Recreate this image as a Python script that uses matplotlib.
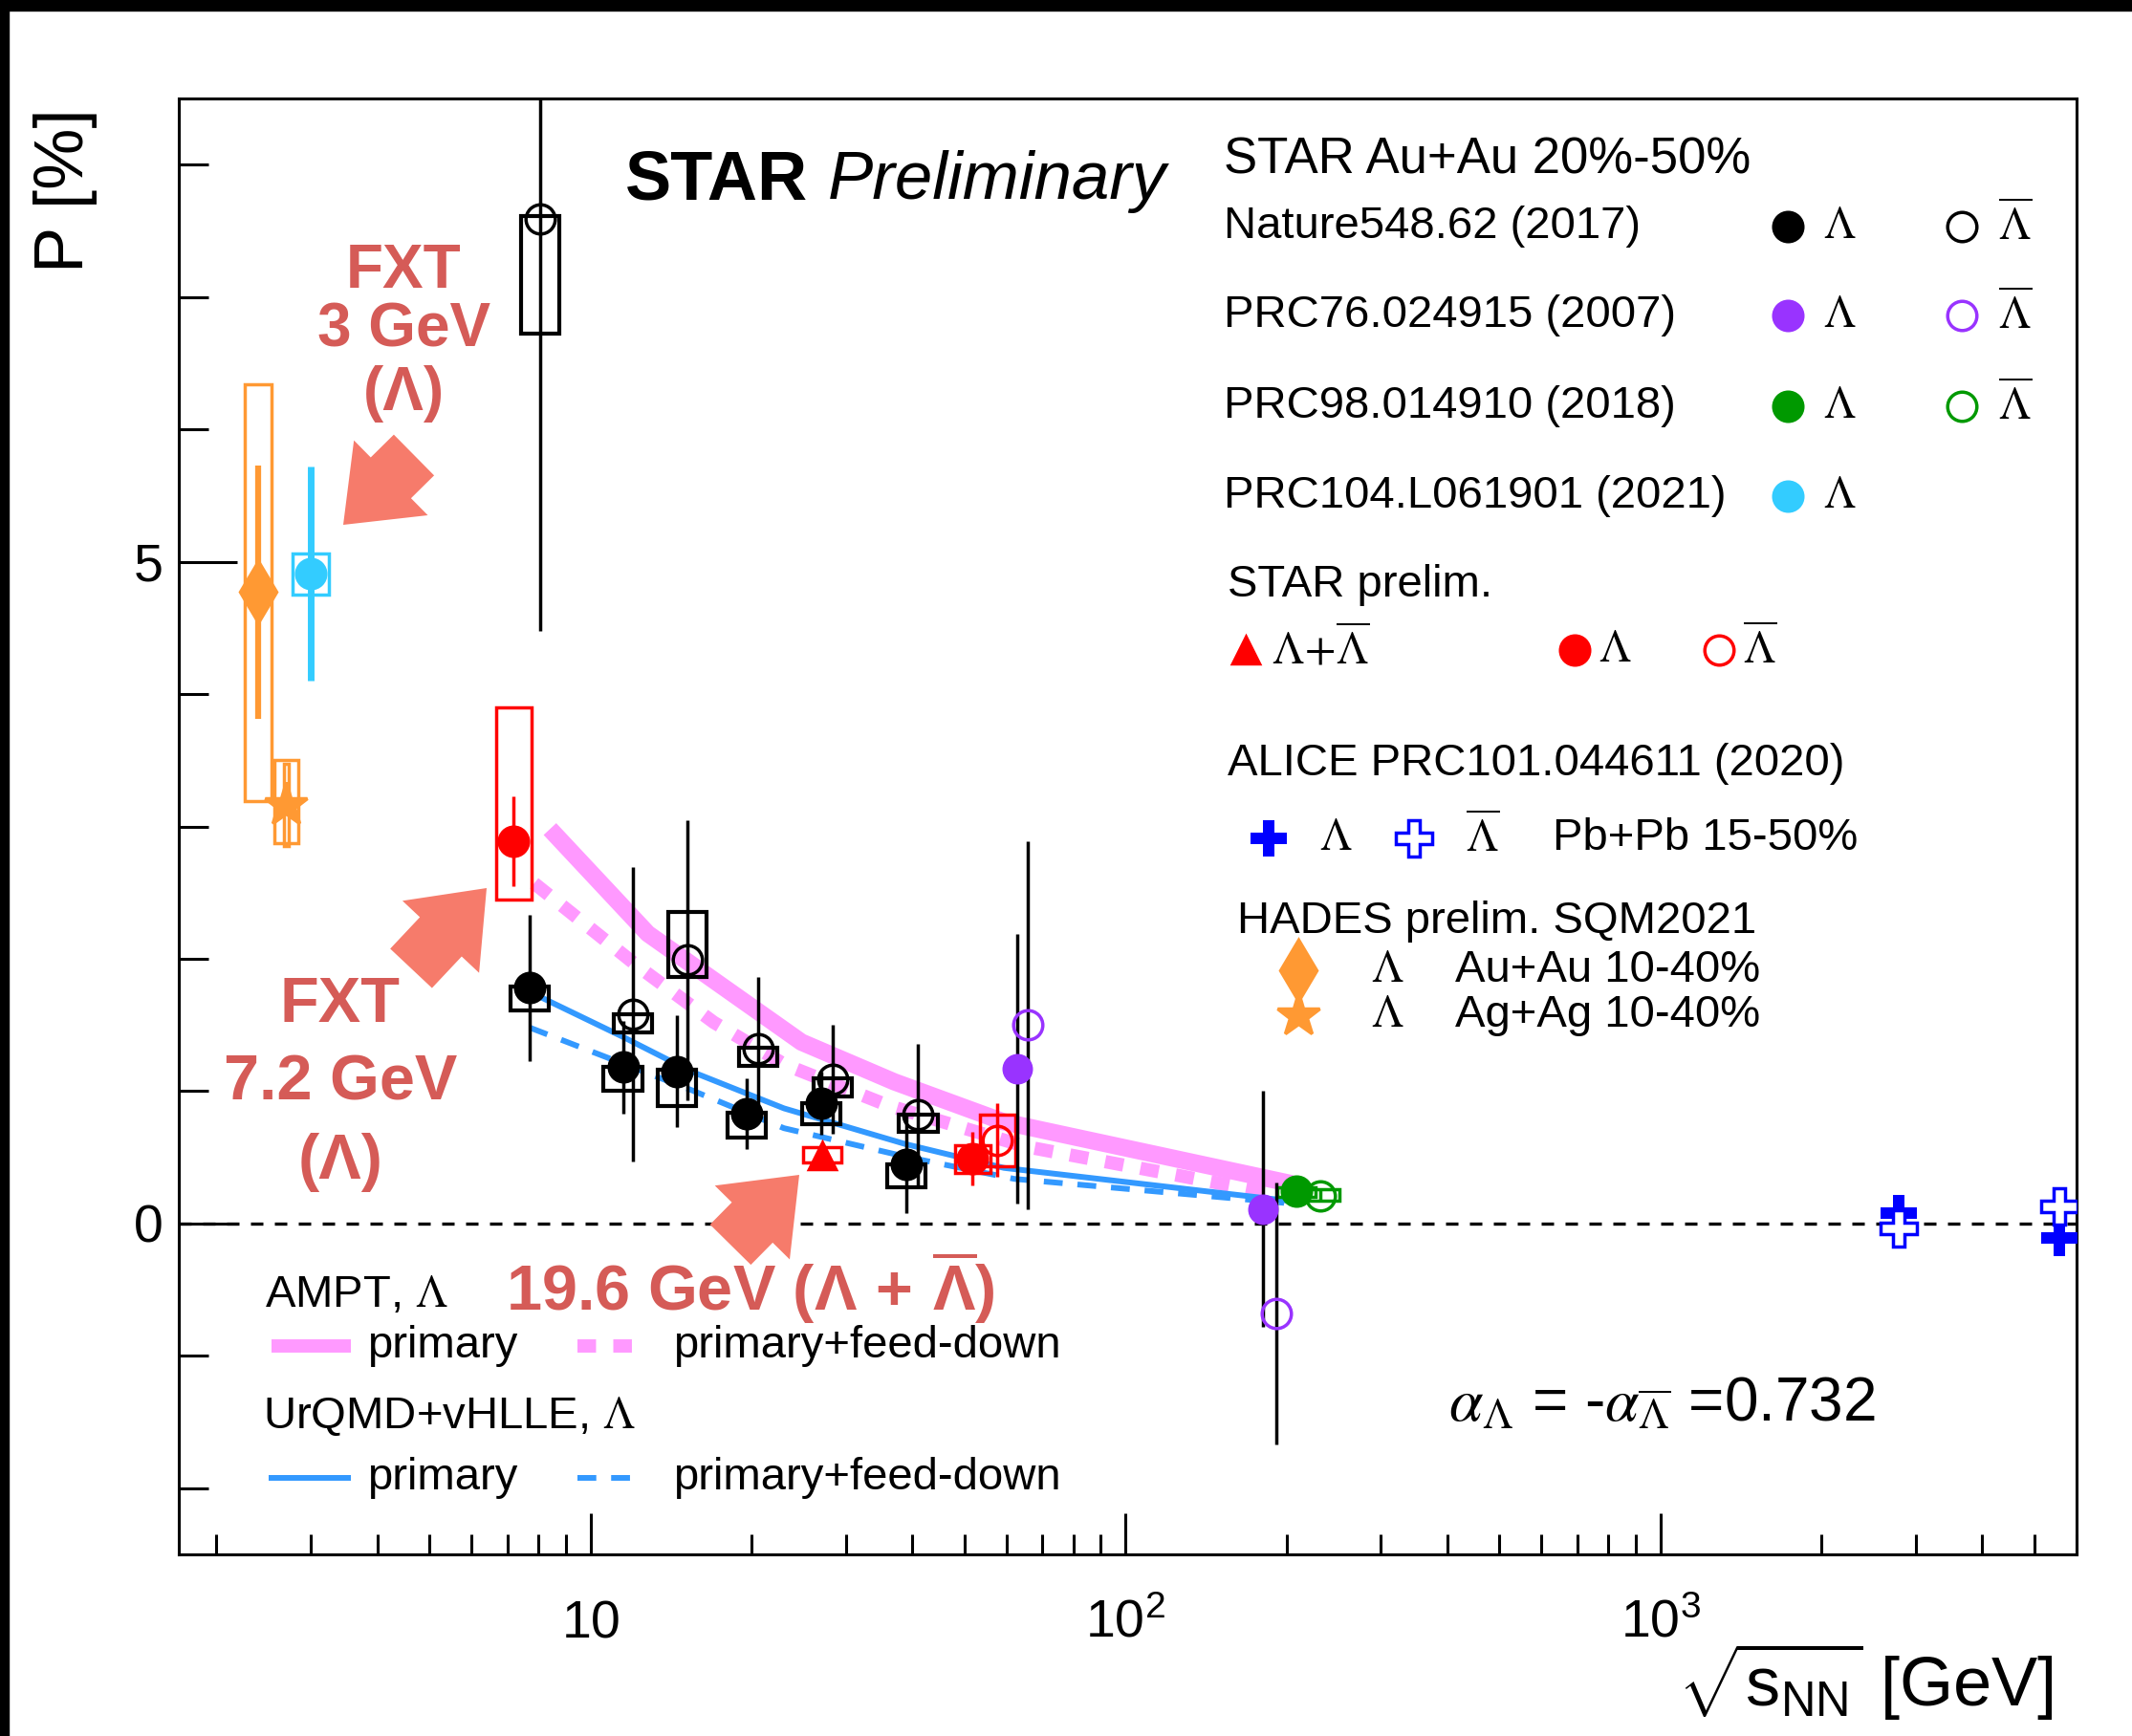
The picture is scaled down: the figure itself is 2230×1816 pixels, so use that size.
import numpy as np
import matplotlib
matplotlib.use('Agg')

from matplotlib import pyplot as plt
from matplotlib.patches import Rectangle, FancyArrow
from matplotlib.transforms import IdentityTransform
from matplotlib.lines import Line2D
from matplotlib.ticker import FixedLocator, NullFormatter

plt.rcParams['font.family'] = ['Liberation Sans', 'DejaVu Sans']
plt.rcParams['mathtext.fontset'] = 'custom'
plt.rcParams['mathtext.rm'] = 'Liberation Sans'
plt.rcParams['mathtext.it'] = 'Liberation Sans:italic'
plt.rcParams['mathtext.bf'] = 'Liberation Sans:bold'

# ---------------- data ----------------
# STAR Au+Au 20-50%, Nature 548, 62 (2017)
nat_lam_x = [7.7, 11.5, 14.5, 19.6, 27.0, 39.0]
nat_lam_y = [1.78, 1.18, 1.15, 0.83, 0.91, 0.45]
nat_lam_err = [0.55, 0.35, 0.42, 0.27, 0.24, 0.37]
nat_lam_lo = [1.61, 1.00, 0.89, 0.65, 0.75, 0.27]
nat_lam_hi = [1.79, 1.18, 1.16, 0.84, 0.91, 0.45]

nat_alam_x = [8.05, 12.0, 15.2, 20.6, 28.4, 41.0]
nat_alam_y = [7.59, 1.58, 1.99, 1.32, 1.09, 0.82]
nat_alam_err = [3.11, 1.11, 1.06, 0.54, 0.41, 0.54]
nat_alam_lo = [6.72, 1.44, 1.86, 1.19, 0.96, 0.69]
nat_alam_hi = [7.61, 1.58, 2.35, 1.33, 1.10, 0.82]

# PRC76.024915 (2007)
prc76_lam_x = [62.7, 181.0]
prc76_lam_y = [1.17, 0.11]
prc76_lam_err = [1.02, 0.89]
prc76_alam_x = [65.7, 191.6]
prc76_alam_y = [1.50, -0.68]
prc76_alam_err = [1.39, 0.99]

# PRC98.014910 (2018)
prc98_lam_x = [209.0]
prc98_lam_y = [0.245]
prc98_lam_err = [0.03]
prc98_lam_lo = [0.20]
prc98_lam_hi = [0.27]
prc98_alam_x = [231.0]
prc98_alam_y = [0.21]
prc98_alam_err = [0.04]
prc98_alam_lo = [0.17]
prc98_alam_hi = [0.26]

# PRC104.L061901 (2021), 3 GeV FXT
prc104_x = [3.0]
prc104_y = [4.91]
prc104_err = [0.81]
prc104_lo = [4.75]
prc104_hi = [5.06]

# STAR preliminary
pre_sum_x = [27.1]
pre_sum_y = [0.51]
pre_sum_err = [0.04]
pre_sum_lo = [0.46]
pre_sum_hi = [0.58]
pre_lam_x = [7.19, 51.8]
pre_lam_y = [2.89, 0.49]
pre_lam_err = [0.34, 0.20]
pre_lam_lo = [2.45, 0.38]
pre_lam_hi = [3.90, 0.59]
pre_alam_x = [57.6]
pre_alam_y = [0.63]
pre_alam_err = [0.28]
pre_alam_lo = [0.43]
pre_alam_hi = [0.82]

# ALICE PRC101.044611 (2020), Pb+Pb 15-50%
alice_lam_x = [2790.0, 5570.0]
alice_lam_y = [0.075, -0.11]
alice_alam_x = [2790.0, 5570.0]
alice_alam_y = [-0.04, 0.13]

# HADES prelim. SQM2021
hades_au_x = [2.39]
hades_au_y = [4.77]
hades_au_err = [0.96]
hades_au_lo = [3.19]
hades_au_hi = [6.34]
hades_ag_x = [2.70]
hades_ag_y = [3.16]
hades_ag_err = [0.31]
hades_ag_lo = [2.87]
hades_ag_hi = [3.50]

# models
ampt_prim_x = [8.4, 12.8, 24.8, 37.0, 59.0, 205.0]
ampt_prim_y = [2.98, 2.19, 1.37, 1.07, 0.77, 0.30]
ampt_fd_x = [7.85, 12.2, 17.0, 23.1, 36.1, 65.3, 199.0]
ampt_fd_y = [2.57, 1.95, 1.52, 1.20, 0.89, 0.58, 0.21]
urqmd_prim_x = [7.7, 11.5, 15.4, 23.0, 38.8, 59.3, 203.0]
urqmd_prim_y = [1.75, 1.41, 1.15, 0.87, 0.60, 0.42, 0.17]
urqmd_fd_x = [7.7, 15.4, 23.0, 38.8, 62.0, 198.0]
urqmd_fd_y = [1.48, 1.01, 0.72, 0.505, 0.337, 0.156]

# ---------------- colours ----------------
c_black = 'black'
c_purple = '#9933ff'
c_green = '#009900'
c_cyan = '#33ccff'
c_red = '#ff0000'
c_blue = '#0000ff'
c_orange = '#ff9933'
c_pink = '#ff99ff'
c_lblue = '#3399ff'
c_note = '#d55b57'
c_arrow = '#f67b6b'

W, H = 2230, 1816
fig = plt.figure(figsize=(W / 100, H / 100), dpi=100)
ax = fig.add_axes([187 / W, 1 - 1626 / H, (2172 - 187) / W, (1626 - 103) / H])
ax.set_xscale('log')
ax.set_xlim(1.7, 6000)
ax.set_ylim(-2.5, 8.5)


def boxes(x, lo, hi, color, half=0.036, lw=3.0, z=4):
    f = 10 ** half
    for xi, l, h in zip(x, lo, hi):
        ax.add_patch(Rectangle((xi / f, l), xi * f - xi / f, h - l, fill=False,
                               ec=color, lw=lw, zorder=z))


def points(x, y, err, color, marker, filled=True, ms=22, elw=2.5, mew=2.5, z=6):
    if err is not None:
        ax.errorbar(x, y, yerr=err, fmt='none', ecolor=color, elinewidth=elw,
                    capsize=0, zorder=z - 1)
    ax.plot(x, y, ls='none', marker=marker, ms=ms, color=color,
            mfc=color if filled else 'none', mec=color, mew=mew, zorder=z)


# zero line
ax.axhline(0, color='black', lw=2.4, ls=(0, (3.9, 3.6)), zorder=1)

# model curves
ax.plot(ampt_prim_x, ampt_prim_y, color=c_pink, lw=13, solid_capstyle='butt', zorder=2)
ax.plot(ampt_fd_x, ampt_fd_y, color=c_pink, lw=10, ls=(0, (1.4, 1.3)), zorder=2)
ax.plot(urqmd_prim_x, urqmd_prim_y, color=c_lblue, lw=4.3, zorder=2)
ax.plot(urqmd_fd_x, urqmd_fd_y, color=c_lblue, lw=4.3, ls=(0, (3.3, 2.6)), zorder=2)

# STAR Nature
boxes(nat_lam_x, nat_lam_lo, nat_lam_hi, c_black)
points(nat_lam_x, nat_lam_y, nat_lam_err, c_black, 'o')
boxes(nat_alam_x, nat_alam_lo, nat_alam_hi, c_black)
points(nat_alam_x, nat_alam_y, nat_alam_err, c_black, 'o', filled=False)

# PRC76
points(prc76_lam_x, prc76_lam_y, prc76_lam_err, c_black, 'none')
ax.plot(prc76_lam_x, prc76_lam_y, ls='none', marker='o', ms=22, color=c_purple, zorder=6)
points(prc76_alam_x, prc76_alam_y, prc76_alam_err, c_black, 'none')
ax.plot(prc76_alam_x, prc76_alam_y, ls='none', marker='o', ms=22, mfc='none',
        mec=c_purple, mew=2.5, zorder=6)

# PRC98
boxes(prc98_lam_x, prc98_lam_lo, prc98_lam_hi, c_green, lw=2.5)
points(prc98_lam_x, prc98_lam_y, prc98_lam_err, c_green, 'o')
boxes(prc98_alam_x, prc98_alam_lo, prc98_alam_hi, c_green, lw=2.5)
points(prc98_alam_x, prc98_alam_y, prc98_alam_err, c_green, 'o', filled=False)

# PRC104
boxes(prc104_x, prc104_lo, prc104_hi, c_cyan, half=0.034, lw=2.5)
points(prc104_x, prc104_y, prc104_err, c_cyan, 'o', elw=5)

# STAR preliminary
boxes(pre_sum_x, pre_sum_lo, pre_sum_hi, c_red, lw=2.5)
points(pre_sum_x, pre_sum_y, pre_sum_err, c_red, '^', ms=20)
boxes(pre_lam_x, pre_lam_lo, pre_lam_hi, c_red, half=0.033, lw=2.5)
points(pre_lam_x, pre_lam_y, pre_lam_err, c_red, 'o')
boxes(pre_alam_x, pre_alam_lo, pre_alam_hi, c_red, half=0.033, lw=2.5)
points(pre_alam_x, pre_alam_y, pre_alam_err, c_red, 'o', filled=False)

# ALICE
ax.plot(alice_lam_x, alice_lam_y, ls='none', marker='P', ms=27, color=c_blue, mew=0, zorder=6)
ax.plot(alice_alam_x, alice_alam_y, ls='none', marker='P', ms=27, mfc='white',
        mec=c_blue, mew=2.5, zorder=7)

# HADES
boxes(hades_au_x, hades_au_lo, hades_au_hi, c_orange, half=0.0255, lw=2.5)
points(hades_au_x, hades_au_y, hades_au_err, c_orange, 'd', ms=33, elw=4.5)
boxes(hades_ag_x, hades_ag_lo, hades_ag_hi, c_orange, half=0.023, lw=2.5)
boxes(hades_ag_x, [v - e for v, e in zip(hades_ag_y, hades_ag_err)],
      [v + e for v, e in zip(hades_ag_y, hades_ag_err)], c_orange, half=0.005, lw=2.5)
points(hades_ag_x, hades_ag_y, None, c_orange, '*', ms=34)

# ---------------- axes styling ----------------
for s in ax.spines.values():
    s.set_linewidth(2.2)
ax.set_yticks([0, 5])
ax.set_yticklabels(['0', '5'])
ax.yaxis.set_minor_locator(FixedLocator(np.arange(-2, 9)))
ax.xaxis.set_major_locator(FixedLocator([10, 100, 1000]))
ax.set_xticklabels([r'$10$', r'$10^{2}$', r'$10^{3}$'])
ax.xaxis.set_minor_locator(FixedLocator([m * 10 ** d for d in range(0, 4) for m in range(2, 10)]))
ax.xaxis.set_minor_formatter(NullFormatter())
ax.tick_params(axis='both', which='both', direction='in', width=2.2,
               top=False, right=False, labelsize=40)
ax.tick_params(axis='y', which='major', length=44, pad=12)
ax.tick_params(axis='y', which='minor', length=22)
ax.tick_params(axis='x', which='major', length=31, pad=62)
ax.tick_params(axis='x', which='minor', length=15)
for lab in ax.get_xticklabels():
    lab.set_verticalalignment('baseline')

fig.text(0.0306, 0.8904, 'P [%]', rotation=90, ha='center', va='center', fontsize=52)
fig.text(0.963, 0.0171, r'$\sqrt{\mathrm{s}_{\mathrm{NN}}}$ [GeV]', ha='right', va='baseline',
         fontsize=52)

# black frame remnants at top / left
fig.add_artist(Rectangle((0, 1 - 11 / H), 1, 11 / H, color='black', transform=fig.transFigure))
fig.add_artist(Rectangle((0, 0), 9 / W, 1, color='black', transform=fig.transFigure))

# ---------------- annotations ----------------
T = ax.transAxes
ax.text(0.2354, 0.9432, 'STAR', fontsize=52, fontweight='bold', va='center', transform=T)
ax.text(0.342, 0.9432, 'Preliminary', fontsize=51, style='italic', va='center', transform=T)

for yy, s in zip([0.8809, 0.8407, 0.7969], ['FXT', '3 GeV', '(Λ)']):
    ax.text(0.1186, yy, s, fontsize=46, fontweight='bold', color=c_note,
            ha='center', va='center', transform=T)
for yy, s in zip([0.3766, 0.3234, 0.2692], ['FXT', '7.2 GeV', '(Λ)']):
    ax.text(0.0850, yy, s, fontsize=48, fontweight='bold', color=c_note,
            ha='center', va='center', transform=T)
ax.text(0.1723, 0.1833, r'$\mathbf{19.6\ GeV\ (\Lambda\,+\,\overline{\Lambda})}$', fontsize=48,
        color=c_note, ha='left', va='center', transform=T)


def block_arrow(tail, tip):
    a = FancyArrow(tail[0], H - tail[1], tip[0] - tail[0], -(tip[1] - tail[1]),
                   width=60, head_width=110, head_length=70, length_includes_head=True,
                   color=c_arrow, lw=0, transform=IdentityTransform(), zorder=8)
    fig.add_artist(a)


block_arrow((433, 476), (359, 549))
block_arrow((430, 1013), (509, 929))
block_arrow((764, 1302), (836, 1229))

# ---------------- legend (right) ----------------
fs = 34


def sym(x, y, marker, color, filled=True, ms=22, mew=2.5):
    ax.plot([x], [y], ls='none', marker=marker, ms=ms, color=color,
            mfc=color if filled else 'none', mec=color, mew=mew,
            transform=T, clip_on=False, zorder=9)


def lam(x, y, bar=False):
    s = r'$\overline{\Lambda}$' if bar else r'$\Lambda$'
    ax.text(x, y, s, fontsize=fs, math_fontfamily='stix', va='center', transform=T)


ax.text(0.5506, 0.9574, 'STAR Au+Au 20%-50%', fontsize=38, va='center', transform=T)
rows = [(0.9117, 'Nature548.62 (2017)', c_black, True),
        (0.8510, 'PRC76.024915 (2007)', c_purple, True),
        (0.7884, 'PRC98.014910 (2018)', c_green, True),
        (0.7268, 'PRC104.L061901 (2021)', c_cyan, False)]
for yy, s, c, anti in rows:
    ax.text(0.5506, yy, s, fontsize=fs, va='center', transform=T)
    sym(0.848, yy, 'o', c)
    lam(0.8665, yy)
    if anti:
        sym(0.9396, yy, 'o', c, filled=False)
        lam(0.9589, yy, bar=True)

ax.text(0.5527, 0.6661, 'STAR prelim.', fontsize=fs, va='center', transform=T)
sym(0.5621, 0.6213, '^', c_red, ms=20)
ax.text(0.5758, 0.6213, r'$\Lambda\!+\!\overline{\Lambda}$', fontsize=fs,
        math_fontfamily='stix', va='center', transform=T)
sym(0.7355, 0.6213, 'o', c_red)
lam(0.748, 0.6213)
sym(0.8114, 0.6213, 'o', c_red, filled=False)
lam(0.8242, 0.6213, bar=True)

ax.text(0.5527, 0.5428, 'ALICE PRC101.044611 (2020)', fontsize=fs, va='center', transform=T)
sym(0.5743, 0.4915, 'P', c_blue, ms=27, mew=0)
lam(0.6008, 0.4915)
ax.plot([0.6509], [0.4915], ls='none', marker='P', ms=27, mfc='white', mec=c_blue,
        mew=2.5, transform=T, clip_on=False, zorder=9)
lam(0.6781, 0.4915, bar=True)
ax.text(0.7239, 0.4915, 'Pb+Pb 15-50%', fontsize=fs, va='center', transform=T)

ax.text(0.5577, 0.4345, 'HADES prelim. SQM2021', fontsize=fs, va='center', transform=T)
sym(0.590, 0.4009, 'd', c_orange, ms=33)
lam(0.628, 0.4009)
ax.text(0.6724, 0.4009, 'Au+Au 10-40%', fontsize=fs, va='center', transform=T)
sym(0.590, 0.3701, '*', c_orange, ms=34)
lam(0.628, 0.3701)
ax.text(0.6724, 0.3701, 'Ag+Ag 10-40%', fontsize=fs, va='center', transform=T)

# ---------------- legend (models) ----------------
ax.text(0.0455, 0.1777, r'AMPT, $\Lambda$', fontsize=fs, math_fontfamily='stix',
        va='center', transform=T)
ax.add_line(Line2D([0.0491, 0.0907], [0.1431, 0.1431], color=c_pink, lw=10,
                   solid_capstyle='butt', transform=T))
ax.text(0.0992, 0.1431, 'primary', fontsize=fs, va='center', transform=T)
ax.add_line(Line2D([0.2101, 0.2425], [0.1431, 0.1431], color=c_pink, lw=10,
                   ls=(0, (1.4, 1.3)), transform=T))
ax.text(0.2604, 0.1431, 'primary+feed-down', fontsize=fs, va='center', transform=T)

ax.text(0.0442, 0.0946, r'UrQMD+vHLLE, $\Lambda$', fontsize=fs, math_fontfamily='stix',
        va='center', transform=T)
ax.add_line(Line2D([0.0476, 0.0907], [0.0525, 0.0525], color=c_lblue, lw=4.3,
                   solid_capstyle='butt', transform=T))
ax.text(0.0992, 0.0525, 'primary', fontsize=fs, va='center', transform=T)
ax.add_line(Line2D([0.2101, 0.2425], [0.0525, 0.0525], color=c_lblue, lw=4.3,
                   ls=(0, (3.3, 2.6)), transform=T))
ax.text(0.2604, 0.0525, 'primary+feed-down', fontsize=fs, va='center', transform=T)

ax.text(0.6688, 0.092, r'$\alpha_{\Lambda}$ = -$\alpha_{\overline{\Lambda}}$ =0.732',
        fontsize=46, math_fontfamily='stix', va='baseline', transform=T)

fig.savefig('out.png', dpi=100)
